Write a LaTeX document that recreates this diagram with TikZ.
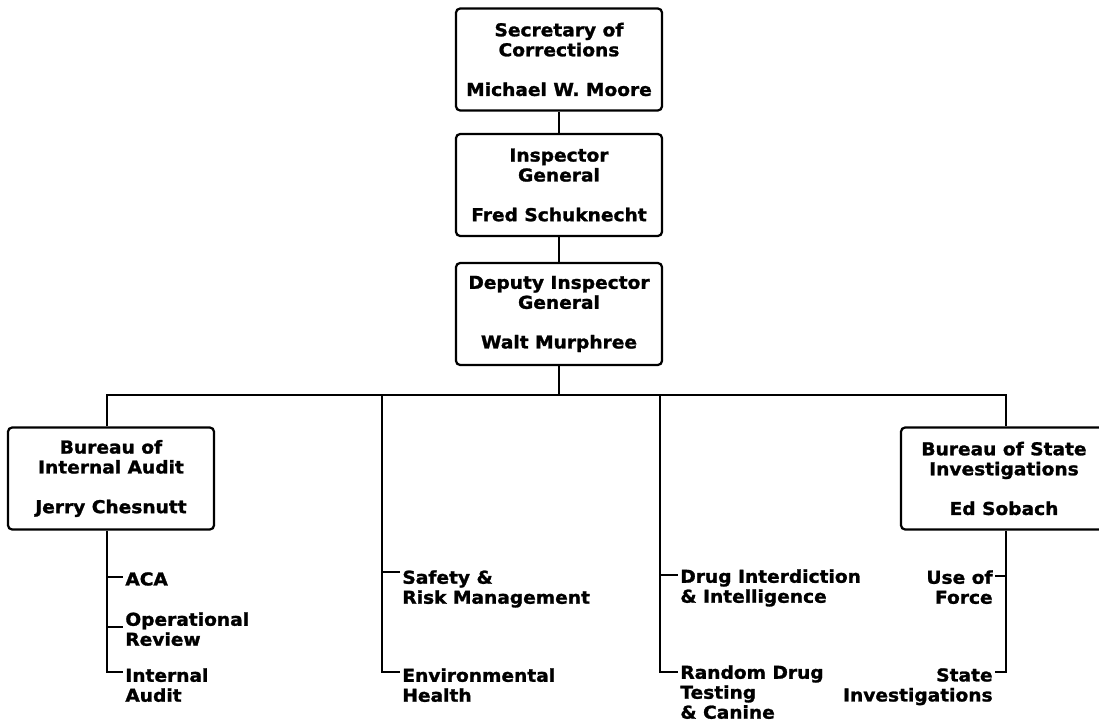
\documentclass[tikz,border=0pt]{standalone}
\usepackage{fontspec}
\newfontfamily\orgfont[FakeStretch=1.05, FakeBold=1.4]{DejaVu Sans Bold}
\usetikzlibrary{calc}

\begin{document}
\begin{tikzpicture}[x=0.025cm, y=-0.025cm,
  every node/.style={font=\orgfont\fontsize{12.6}{14.2}\selectfont},
  office/.style={draw, line width=1.6pt, rounded corners=3pt, fill=white, align=center,
    minimum width=5.15cm, minimum height=2.55cm, inner sep=0pt},
  unit/.style={align=left, anchor=north west, inner xsep=1.5pt, inner ysep=0pt},
  unitr/.style={unit, align=right, anchor=north east},
  link/.style={line width=1.6pt}
]
  \useasboundingbox (0,0) rectangle (1099,723);

  % top chain
  \node[office] (sec) at (559,59.5) {Secretary of\\Corrections\\[14pt]Michael W. Moore};
  \node[office] (ig) at (559,185) {Inspector\\General\\[14pt]Fred Schuknecht};
  \node[office] (dig) at (559,314) {Deputy Inspector\\General\\[14pt]Walt Murphree};
  \draw[link] (sec) -- (ig);
  \draw[link] (ig) -- (dig);

  % bureaus
  \node[office] (bia) at (111,478.5) {Bureau of\\Internal Audit\\[14pt]Jerry Chesnutt};
  \node[office] (bsi) at (1004,478.5) {Bureau of State\\Investigations\\[14pt]Ed Sobach};

  % the bar
  \coordinate (barL) at (107,395);
  \coordinate (barR) at (1006,395);
  \draw[link] (dig.south) -- (dig.south |- barL);
  \draw[link] (bia.north -| barL) -- (barL) -- (barR) -- (bsi.north -| barR);

  % internal audit units
  \coordinate (kACA) at (107,577);
  \coordinate (kOR) at (107,627);
  \coordinate (kIA) at (107,672);
  \node[unit] (aca) at (123,572) {ACA};
  \node[unit] (orev) at (123,612) {Operational\\Review};
  \node[unit] (iaud) at (123,668) {Internal\\Audit};
  \draw[link] (bia.south -| kIA) -- (kIA) -- (kIA -| iaud.west);
  \draw[link] (kACA) -- (kACA -| aca.west);
  \draw[link] (kOR) -- (kOR -| orev.west);

  % safety column
  \coordinate (sTop) at (382,395);
  \coordinate (kSRM) at (382,572);
  \coordinate (kEH) at (382,672);
  \node[unit] (srm) at (400,570) {Safety \&\\Risk Management};
  \node[unit] (envh) at (400,668) {Environmental\\Health};
  \draw[link] (sTop) -- (kEH) -- (kEH -| envh.west);
  \draw[link] (kSRM) -- (kSRM -| srm.west);

  % drug column
  \coordinate (dTop) at (660,395);
  \coordinate (kDII) at (660,575);
  \coordinate (kRDT) at (660,672);
  \node[unit] (dii) at (678,569) {Drug Interdiction\\\& Intelligence};
  \node[unit] (rdt) at (678,665) {Random Drug\\Testing\\\& Canine};
  \draw[link] (dTop) -- (kRDT) -- (kRDT -| rdt.west);
  \draw[link] (kDII) -- (kDII -| dii.west);

  % state investigations units
  \coordinate (kUOF) at (1006,576);
  \coordinate (kSI) at (1006,672);
  \node[unitr] (uof) at (995,570) {Use of\\Force};
  \node[unitr] (stinv) at (995,668) {State\\Investigations};
  \draw[link] (bsi.south -| kSI) -- (kSI) -- (kSI -| stinv.east);
  \draw[link] (kUOF) -- (kUOF -| uof.east);
\end{tikzpicture}
\end{document}
